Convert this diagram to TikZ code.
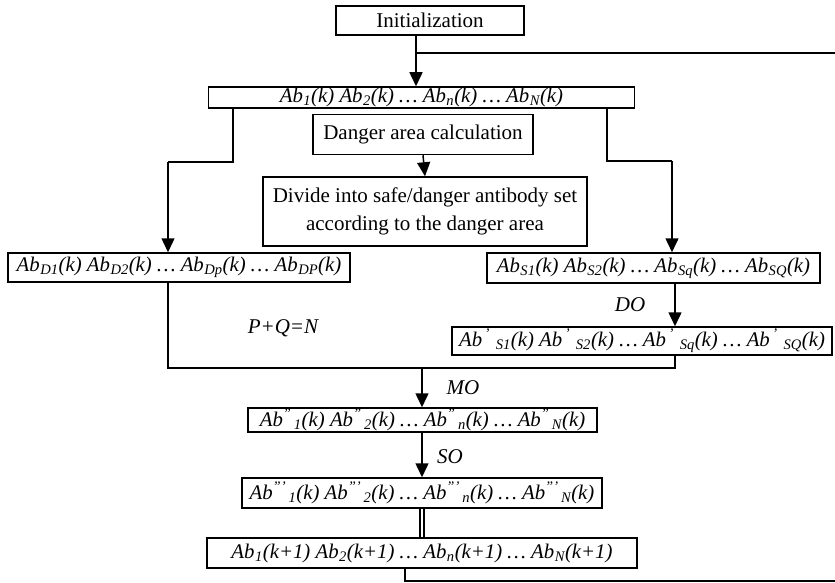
\documentclass[tikz,border=0pt]{standalone}
\usepackage{fontspec}
\setmainfont{Liberation Serif}
\usetikzlibrary{arrows.meta}
\newcommand\abx[2]{Ab\textsuperscript{#1}\textsubscript{#2}}
\newcommand\abp[1]{Ab\hspace{0.12em}\textsuperscript{'}\hspace{0.28em}\textsubscript{#1}}
\begin{document}
\begin{tikzpicture}[x=1pt,y=-1pt,
  box/.style={draw, line width=1.5pt, inner sep=0pt, align=center, font=\fontsize{21}{28}\selectfont},
  ibox/.style={box, font=\fontsize{20.8}{24}\selectfont\itshape},
  ln/.style={line width=1.5pt},
  arr/.style={line width=1.5pt, -{Triangle[length=14pt,width=13pt]}},
  lbl/.style={font=\fontsize{21}{24}\selectfont\itshape, inner sep=0pt}]
\useasboundingbox (0,0) rectangle (835,583);
% boxes
\node[box, minimum width=188pt, minimum height=29pt] (init) at (430,20.5) {Initialization};
\node[ibox, minimum width=426pt, minimum height=21pt] (ab) at (421.5,97.5)
  {\abx{}{1}(k) \abx{}{2}(k) \dots\ \abx{}{n}(k) \dots\ \abx{}{N}(k)};
\node[box, minimum width=220pt, minimum height=40pt] (danger) at (423,134.5) {Danger area calculation};
\node[box, minimum width=324pt, minimum height=69pt] (divide) at (425,211.5)
  {Divide into safe/danger antibody set\\according to the danger area};
\node[ibox, minimum width=342pt, minimum height=29pt] (dset) at (179,267.5)
  {\abx{}{D1}(k) \abx{}{D2}(k) \dots\ \abx{}{Dp}(k) \dots\ \abx{}{DP}(k)};
\node[ibox, minimum width=333pt, minimum height=30pt] (sset) at (653.5,268)
  {\abx{}{S1}(k) \abx{}{S2}(k) \dots\ \abx{}{Sq}(k) \dots\ \abx{}{SQ}(k)};
\node[ibox, minimum width=380pt, minimum height=28pt] (sset2) at (642,341)
  {\abp{S1}(k) \abp{S2}(k) \dots\ \abp{Sq}(k) \dots\ \abp{SQ}(k)};
\node[ibox, minimum width=349pt, minimum height=24pt] (mo) at (422.5,420)
  {\abx{''}{\,1}(k) \abx{''}{\,2}(k) \dots\ \abx{''}{\,n}(k) \dots\ \abx{''}{\,N}(k)};
\node[ibox, minimum width=360pt, minimum height=30pt] (so) at (422,493)
  {\abx{'''}{\,1}(k) \abx{'''}{\,2}(k) \dots\ \abx{'''}{\,n}(k) \dots\ \abx{'''}{\,N}(k)};
\node[ibox, minimum width=430pt, minimum height=30pt] (next) at (422,553)
  {\abx{}{1}(k+1) \abx{}{2}(k+1) \dots\ \abx{}{n}(k+1) \dots\ \abx{}{N}(k+1)};
% labels
\node[lbl] (lpq) at (283,328) {P+Q=N};
\node[lbl] (ldo) at (630,305) {DO};
\node[lbl] (lmo) at (463,388) {MO};
\node[lbl] (lso) at (450,457) {SO};
% coordinates
\coordinate (c1) at (416,53);
\coordinate (e1) at (835,53);
\coordinate (l1) at (233,162);
\coordinate (l2) at (168,162);
\coordinate (r1) at (607,161);
\coordinate (r2) at (672,161);
\coordinate (j1) at (168,368);
\coordinate (j2) at (675,368);
\coordinate (m1) at (422,368);
\coordinate (b1) at (405,581);
\coordinate (e2) at (835,581);
% connectors
\draw[arr] (c1 |- init.south) -- (c1 |- ab.north);
\draw[ln] (c1) -- (e1);
\draw[ln] (l1 |- ab.south) -- (l1) -- (l2);
\draw[arr] (l2) -- (l2 |- dset.north);
\draw[ln] (r1 |- ab.south) -- (r1) -- (r2);
\draw[arr] (r2) -- (r2 |- sset.north);
\draw[arr] (danger.south) -- (divide.north);
\draw[arr] (j2 |- sset.south) -- (j2 |- sset2.north);
\draw[ln] (j1 |- dset.south) -- (j1) -- (j2) -- (j2 |- sset2.south);
\draw[arr] (m1) -- (m1 |- mo.north);
\draw[arr] (m1 |- mo.south) -- (m1 |- so.north);
\draw[line width=1.4pt, double, double distance=2.4pt] (so.south) -- (next.north);
\draw[ln] (b1 |- next.south) -- (b1) -- (e2);
\end{tikzpicture}
\end{document}
